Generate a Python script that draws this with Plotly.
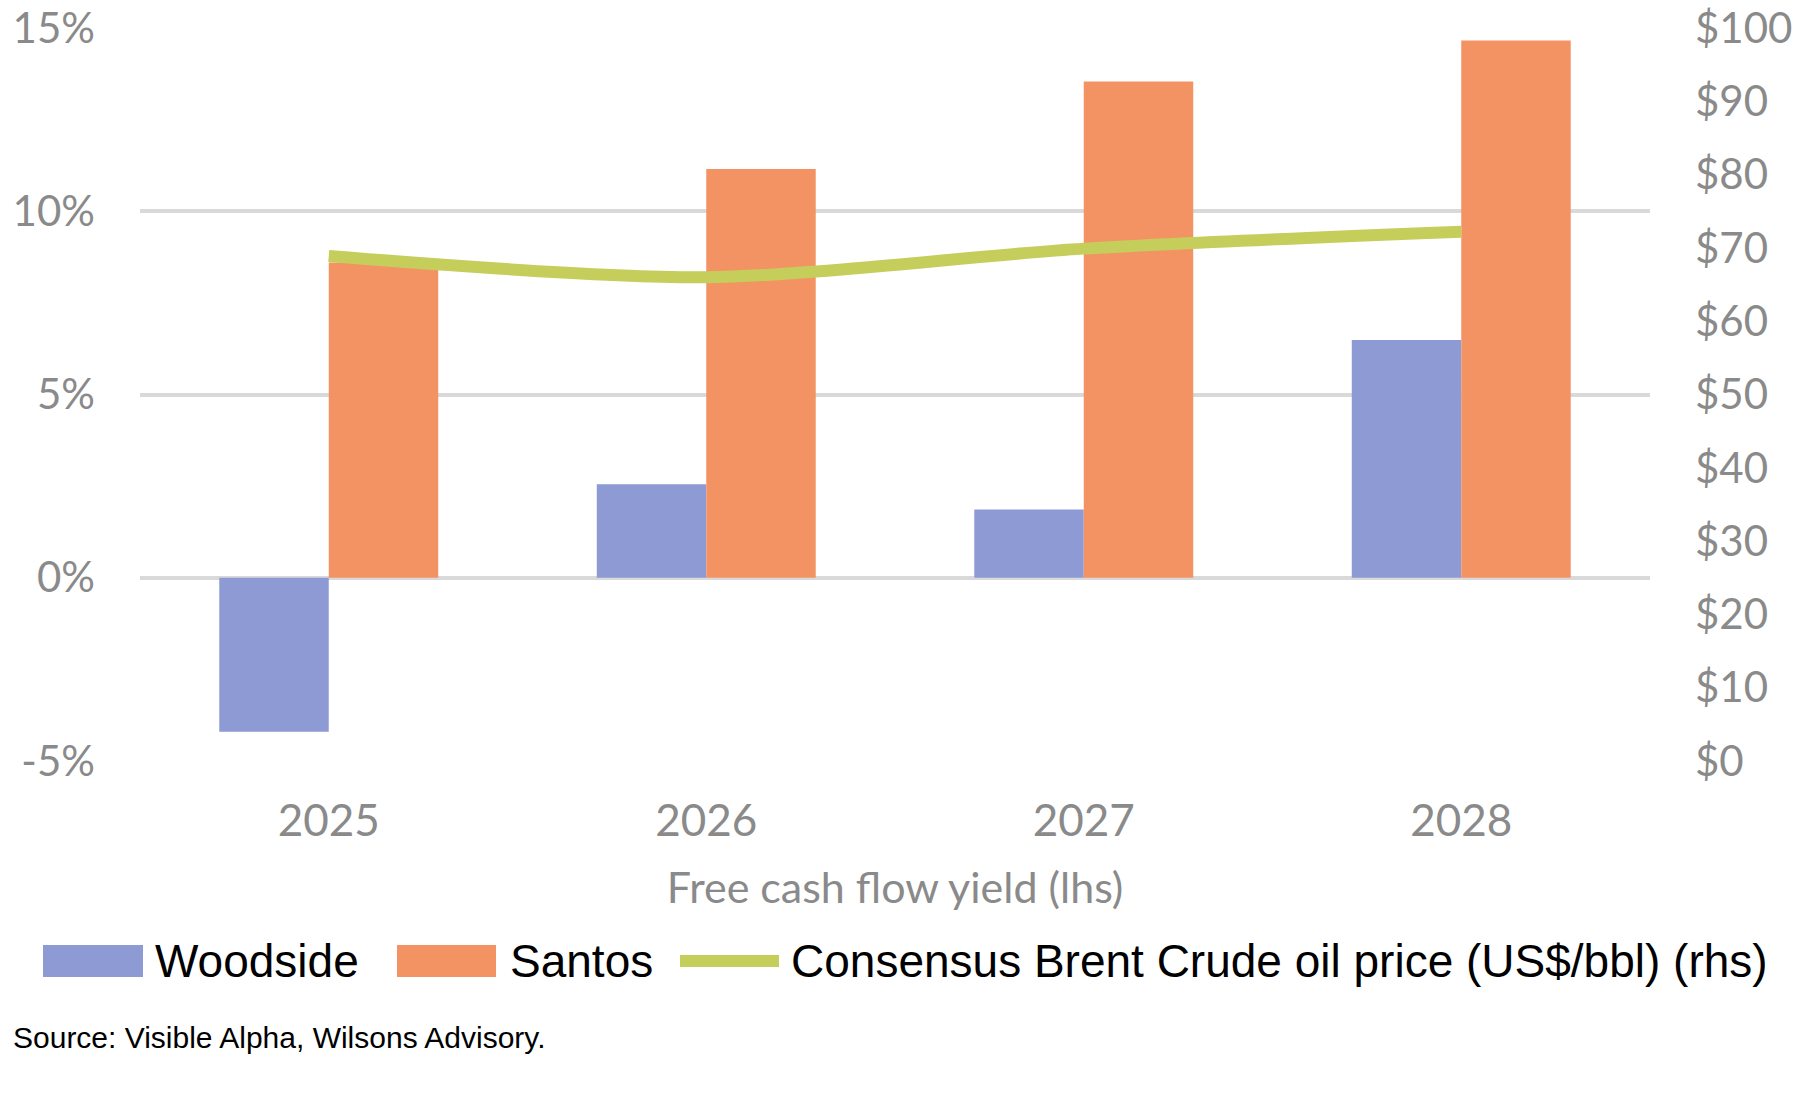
import plotly.graph_objects as go

years = ["2025", "2026", "2027", "2028"]
woodside = [-4.2, 2.55, 1.86, 6.49]
santos = [8.6, 11.15, 13.54, 14.66]
brent = [68.9, 66.0, 69.9, 72.2]
series_names = ["Woodside", "Santos", "Consensus Brent Crude oil price (US$/bbl) (rhs)"]
left_ticks = [-5, 0, 5, 10, 15]
left_labels = ["-5%", "0%", "5%", "10%", "15%"]
right_ticks = [0, 10, 20, 30, 40, 50, 60, 70, 80, 90, 100]
right_labels = ["$" + str(v) for v in right_ticks]

c_wood = "#8E9AD4"
c_sant = "#F39363"
c_line = "#C5CE5B"
grey = "#8A8A8A"
tickfam = "Lato, Roboto, sans-serif"
reg = "Liberation Sans, Arial, sans-serif"

W, H = 1800, 1095
pl, pr, pt, pb = 140, 1650, 28, 761

fig = go.Figure()
fig.add_trace(go.Bar(x=years, y=woodside, name=series_names[0], marker_color=c_wood,
                     marker_line_width=0, showlegend=False, hoverinfo="skip"))
fig.add_trace(go.Bar(x=years, y=santos, name=series_names[1], marker_color=c_sant,
                     marker_line_width=0, showlegend=False, hoverinfo="skip"))
fig.add_trace(go.Scatter(x=years, y=brent, name=series_names[2], yaxis="y2", mode="lines",
                         line=dict(color=c_line, width=12, shape="spline", smoothing=0.8),
                         showlegend=False, hoverinfo="skip"))

fig.update_layout(
    width=W, height=H,
    margin=dict(l=pl, r=W - pr, t=pt, b=H - pb),
    paper_bgcolor="white", plot_bgcolor="white",
    barmode="group", bargap=0.42, bargroupgap=0,
    xaxis=dict(showgrid=False, showline=False, ticks="", automargin=False,
               tickfont=dict(family=tickfam, size=44, color=grey), ticklabelstandoff=30,
               title=dict(text="Free cash flow yield (lhs)", font=dict(family=tickfam, size=43, color=grey), standoff=28)),
    yaxis=dict(range=[-5, 15], tickvals=left_ticks, ticktext=left_labels, showgrid=True,
               gridcolor="#D9D9D9", gridwidth=4, zeroline=False, showline=False, ticks="",
               automargin=False, ticklabeloverflow="allow",
               tickfont=dict(family=tickfam, size=42, color=grey), ticklabelstandoff=44),
    yaxis2=dict(range=[0, 100], tickvals=right_ticks, ticktext=right_labels, overlaying="y", side="right",
                showgrid=False, zeroline=False, showline=False, ticks="", automargin=False,
                ticklabeloverflow="allow",
                tickfont=dict(family=tickfam, size=42, color=grey), ticklabelstandoff=44),
    showlegend=False,
)

def px2paper_x(x):
    return (x - pl) / (pr - pl)
def px2paper_y(y):
    return (pb - y) / (pb - pt)

# custom legend
ly = 961
items = [
    ("rect", c_wood, 43, 143, 153, series_names[0]),
    ("rect", c_sant, 397, 496, 508, series_names[1]),
    ("line", c_line, 680, 779, 789, series_names[2]),
]
for kind, col, x0, x1, tx, name in items:
    if kind == "rect":
        fig.add_shape(type="rect", xref="paper", yref="paper",
                      x0=px2paper_x(x0), x1=px2paper_x(x1), y0=px2paper_y(ly + 16), y1=px2paper_y(ly - 16),
                      fillcolor=col, line_width=0)
    else:
        fig.add_shape(type="line", xref="paper", yref="paper",
                      x0=px2paper_x(x0), x1=px2paper_x(x1), y0=px2paper_y(ly), y1=px2paper_y(ly),
                      line=dict(color=col, width=12))
    fig.add_annotation(text=name, xref="paper", yref="paper", x=px2paper_x(tx), y=px2paper_y(ly),
                       xanchor="left", yanchor="middle", showarrow=False,
                       font=dict(family=reg, size=46, color="black"))

fig.add_annotation(text="Source: Visible Alpha, Wilsons Advisory.", xref="paper", yref="paper",
                   x=px2paper_x(11), y=px2paper_y(1037), xanchor="left", yanchor="middle", showarrow=False,
                   font=dict(family=reg, size=30, color="black"))

fig.write_html("out.html", config={"displayModeBar": False},
               post_script="document.body.style.margin='0';")
